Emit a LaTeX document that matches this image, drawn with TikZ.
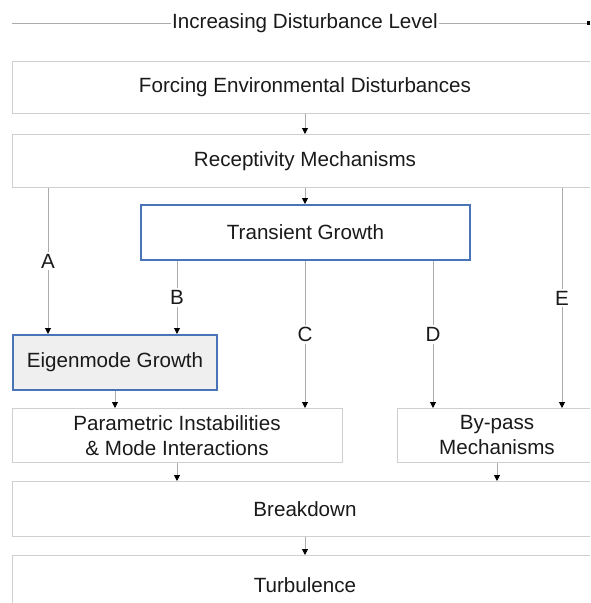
\documentclass[tikz,border=0pt]{standalone}
\usepackage{fontspec}
\setmainfont{Liberation Sans}
\usetikzlibrary{arrows.meta,positioning}
\definecolor{edge1}{HTML}{CFCFCF}
\definecolor{wire1}{HTML}{ABABAB}
\definecolor{blue1}{HTML}{4A74B8}
\definecolor{fill1}{HTML}{EFEFEF}
\definecolor{ink}{HTML}{1A1A1A}

\tikzset{
  box/.style={draw=edge1,line width=1pt,inner sep=0pt,align=center,
              font=\fontsize{20.6}{25}\selectfont,text=ink},
  keybox/.style={box,draw=blue1,line width=2pt},
  wire/.style={draw=wire1,line width=1pt,
               -{Triangle[width=6pt,length=6pt,color=black]}},
  tag/.style={fill=white,inner sep=2pt,font=\fontsize{20.6}{24}\selectfont,text=ink}
}

\begin{document}
\begin{tikzpicture}[x=1pt,y=-1pt]
  \clip (0,0) rectangle (590,603);
  \fill[white] (0,0) rectangle (590,603);
  \node[font=\fontsize{20.6}{24}\selectfont,text=ink,inner sep=1pt] (level) at (305,23)
       {Increasing Disturbance Level};
  \coordinate (lvlL) at (12,23);
  \coordinate (lvlR) at (590,23);
  \draw[wire1,line width=1pt] (lvlL) -- (lvlL -| level.west);
  \draw[wire1,line width=1pt,-{Square[length=3pt,width=4pt,color=black]}]
       (lvlR -| level.east) -- (lvlR);
  \node[box,minimum width=586,minimum height=52] (forcing) at (305,87)
       {Forcing Environmental Disturbances};
  \node[box,minimum width=586,minimum height=53] (recep) at (305,161)
       {Receptivity Mechanisms};
  \node[keybox,minimum width=329,minimum height=55] (trans) at (305.5,232.5)
       {Transient Growth};
  \node[keybox,fill=fill1,minimum width=204,minimum height=55] (eigen) at (115,362.5)
       {Eigenmode Growth};
  \node[box,minimum width=330,minimum height=54] (param) at (177,435.5)
       {Parametric Instabilities\\\& Mode Interactions};
  \node[box,minimum width=200,minimum height=54] (bypass) at (497,435.5)
       {By-pass\\Mechanisms};
  \node[box,minimum width=586,minimum height=55] (breakd) at (305,509)
       {Breakdown};
  \node[box,minimum width=586,minimum height=60] (turb) at (305,585.5)
       {Turbulence};
  \coordinate (xA) at (48,0);
  \coordinate (xB) at (177,0);
  \coordinate (xC) at (305,0);
  \coordinate (xD) at (433,0);
  \coordinate (xE) at (562,0);
  \draw[wire] (forcing.south -| xC) -- (recep.north -| xC);
  \draw[wire] (recep.south -| xC) -- (trans.north -| xC);
  \draw[wire] (recep.south -| xA) -- node[tag,pos=0.5]{A} (eigen.north -| xA);
  \draw[wire] (trans.south -| xB) -- node[tag,pos=0.5]{B} (eigen.north -| xB);
  \draw[wire] (trans.south -| xC) -- node[tag,pos=0.5]{C} (param.north -| xC);
  \draw[wire] (trans.south -| xD) -- node[tag,pos=0.5]{D} (bypass.north -| xD);
  \draw[wire] (recep.south -| xE) -- node[tag,pos=0.5]{E} (bypass.north -| xE);
  \draw[wire] (eigen.south) -- (eigen.south |- param.north);
  \draw[wire] (param.south) -- (param.south |- breakd.north);
  \draw[wire] (bypass.south) -- (bypass.south |- breakd.north);
  \draw[wire] (breakd.south) -- (turb.north);
\end{tikzpicture}
\end{document}
